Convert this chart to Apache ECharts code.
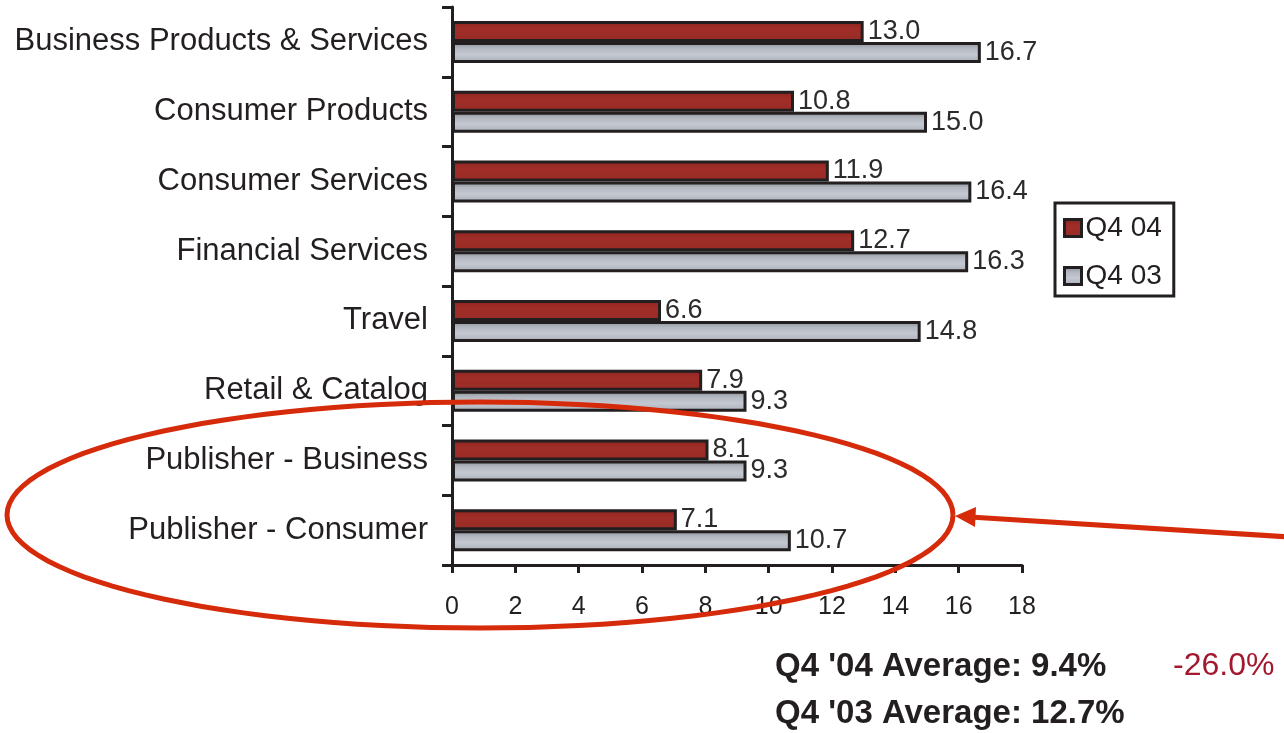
<!DOCTYPE html>
<html>
<head>
<meta charset="utf-8">
<script src="https://cdn.jsdelivr.net/npm/echarts@6/dist/echarts.min.js"></script>
<style>
  html, body { margin: 0; padding: 0; background: #ffffff; }
  #chart { width: 1284px; height: 733px; }
</style>
</head>
<body>
<div id="chart"></div>
<script>
// Lead conversion by industry, Q4 '04 versus Q4 '03
const categories = [
  'Business Products & Services',
  'Consumer Products',
  'Consumer Services',
  'Financial Services',
  'Travel',
  'Retail & Catalog',
  'Publisher - Business',
  'Publisher - Consumer'
];
const q404Values = [13.0, 10.8, 11.9, 12.7, 6.6, 7.9, 8.1, 7.1];
const q403Values = [16.7, 15.0, 16.4, 16.3, 14.8, 9.3, 9.3, 10.7];
const seriesNames = ['Q4 04', 'Q4 03'];
const averageLines = ["Q4 '04 Average: 9.4%", "Q4 '03 Average: 12.7%"];
const changeLabel = '-26.0%';

const INK = '#231f20';
const RED = '#d52b0b';
const FONT = '"Liberation Sans", Arial, sans-serif';

const chart = echarts.init(document.getElementById('chart'), null, { renderer: 'canvas' });

// Outline ring around the two publisher rows
function ringPoints(cx, cy, rx, ry, n) {
  const pts = [];
  for (let i = 0; i <= n; i++) {
    const t = (i / n) * Math.PI * 2;
    pts.push([cx + rx * Math.cos(t), cy + ry * Math.sin(t)]);
  }
  return pts;
}

const barBorder = { borderColor: INK, borderWidth: 3 };
const greyFill = new echarts.graphic.LinearGradient(0, 0, 0, 1, [
  { offset: 0, color: '#868b92' },
  { offset: 0.3, color: '#b3b7bf' },
  { offset: 0.6, color: '#c4c8d0' },
  { offset: 1, color: '#a9adb5' }
]);
const redFill = new echarts.graphic.LinearGradient(0, 0, 0, 1, [
  { offset: 0, color: '#8c231f' },
  { offset: 0.4, color: '#a12e28' },
  { offset: 1, color: '#972a25' }
]);

const valueLabel = {
  show: true,
  position: 'right',
  distance: 4,
  color: '#2b2b2b',
  fontFamily: FONT,
  fontSize: 27,
  formatter: p => Number(p.value).toFixed(1)
};

const option = {
  backgroundColor: '#ffffff',
  animation: false,
  textStyle: { fontFamily: FONT },
  grid: { left: 452, right: 262, top: 7, bottom: 168, containLabel: false },
  legend: {
    orient: 'vertical',
    left: 1055,
    top: 203,
    padding: [11, 12, 6, 8],
    itemWidth: 17,
    itemHeight: 17,
    itemGap: 20,
    borderColor: INK,
    borderWidth: 3,
    borderRadius: 0,
    icon: 'rect',
    itemStyle: { borderColor: INK, borderWidth: 3 },
    textStyle: { color: INK, fontFamily: FONT, fontSize: 28, lineHeight: 22, padding: [0, 0, 0, -1] },
    data: seriesNames
  },
  xAxis: {
    type: 'value',
    min: 0,
    max: 18,
    interval: 2,
    splitLine: { show: false },
    axisLine: { show: true, lineStyle: { color: INK, width: 3 } },
    axisTick: { show: true, length: 8, lineStyle: { color: INK, width: 3 } },
    axisLabel: { color: INK, fontFamily: FONT, fontSize: 25, margin: 30 }
  },
  yAxis: {
    type: 'category',
    inverse: true,
    data: categories,
    axisLine: { show: true, lineStyle: { color: INK, width: 3 } },
    axisTick: { show: true, length: 10, lineStyle: { color: INK, width: 3 } },
    axisLabel: { color: INK, fontFamily: FONT, fontSize: 31, margin: 24, padding: [6, 0, 0, 0] }
  },
  series: [
    {
      name: seriesNames[0],
      type: 'bar',
      data: q404Values,
      barWidth: 21,
      barGap: '0%',
      itemStyle: Object.assign({ color: redFill }, barBorder),
      label: valueLabel
    },
    {
      name: seriesNames[1],
      type: 'bar',
      data: q403Values,
      barWidth: 21,
      itemStyle: Object.assign({ color: greyFill }, barBorder),
      label: valueLabel
    }
  ],
  graphic: [
    {
      type: 'polyline',
      z: 100,
      silent: true,
      shape: { points: ringPoints(480, 515, 473, 113, 120) },
      style: { fill: null, stroke: RED, lineWidth: 5 }
    },
    {
      type: 'line',
      z: 100,
      silent: true,
      shape: { x1: 1290, y1: 537, x2: 970, y2: 517 },
      style: { stroke: RED, lineWidth: 5 }
    },
    {
      type: 'polygon',
      z: 100,
      silent: true,
      shape: { points: [[955, 516], [976, 507], [975, 527]] },
      style: { fill: RED }
    },
    {
      type: 'text',
      left: 775,
      top: 650,
      style: { text: averageLines[0], fill: INK, font: 'bold 33px ' + FONT }
    },
    {
      type: 'text',
      left: 775,
      top: 697,
      style: { text: averageLines[1], fill: INK, font: 'bold 33px ' + FONT }
    },
    {
      type: 'text',
      left: 1173,
      top: 650,
      style: { text: changeLabel, fill: '#a3182e', font: '32px ' + FONT }
    }
  ]
};

chart.setOption(option);
</script>
</body>
</html>
